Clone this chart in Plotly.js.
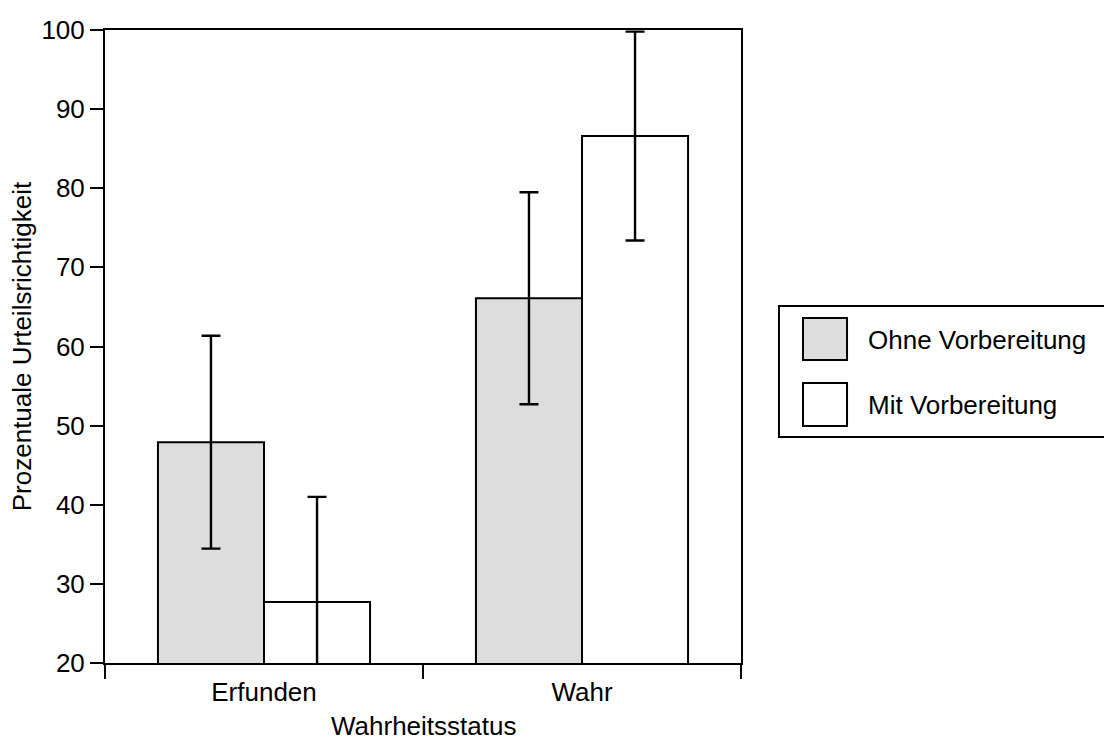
<!DOCTYPE html>
<html>
<head>
<meta charset="utf-8">
<script src="https://cdn.plot.ly/plotly-3.0.1.min.js"></script>
<style>
  html, body { margin: 0; padding: 0; background: #ffffff; }
  #chart { width: 1104px; height: 742px; }
</style>
</head>
<body>
<div id="chart"></div>
<script>
// Categories (truth status) and the two preparation conditions
const categories = ["Erfunden", "Wahr"];
const seriesNames = ["Ohne Vorbereitung", "Mit Vorbereitung"];
const xTitle = "Wahrheitsstatus";
const yTitle = "Prozentuale Urteilsrichtigkeit";

// Mean percentage of correct judgements
const ohneValues = [47.9, 66.1];
const mitValues = [27.7, 86.6];

// Error bar half-lengths
const ohneErrors = [13.45, 13.4];
const mitErrors = [13.3, 13.2];

// Y axis ticks
const yTicks = [20, 30, 40, 50, 60, 70, 80, 90, 100];

const FONT = "Liberation Sans, Arial, Helvetica, sans-serif";
const BLACK = "#000000";
const GREY = "#dddddd";

function barTrace(name, values, errors, fill) {
  return {
    type: "bar",
    name: name,
    x: categories,
    y: values,
    marker: { color: fill, line: { color: BLACK, width: 2 } },
    error_y: {
      type: "data",
      array: errors,
      symmetric: true,
      visible: true,
      color: BLACK,
      thickness: 2.4,
      width: 9.5
    },
    hoverinfo: "x+y"
  };
}

const data = [
  barTrace(seriesNames[0], ohneValues, ohneErrors, GREY),
  barTrace(seriesNames[1], mitValues, mitErrors, "#ffffff")
];

// Legend drawn as a framed box with large swatches
const legendShapes = [
  { type: "rect", xref: "paper", yref: "paper", x0: 1.0597, x1: 1.58, y0: 0.357, y1: 0.564,
    line: { color: BLACK, width: 2 }, fillcolor: "#ffffff" },
  { type: "rect", xref: "paper", yref: "paper", x0: 1.0975, x1: 1.1667, y0: 0.4787, y1: 0.545,
    line: { color: BLACK, width: 2 }, fillcolor: GREY },
  { type: "rect", xref: "paper", yref: "paper", x0: 1.0975, x1: 1.1667, y0: 0.3744, y1: 0.4423,
    line: { color: BLACK, width: 2 }, fillcolor: "#ffffff" }
];

const legendLabels = [
  { text: seriesNames[0], y: 0.511 },
  { text: seriesNames[1], y: 0.408 }
].map(d => ({
  xref: "paper", yref: "paper", x: 1.197, y: d.y, xanchor: "left", yanchor: "middle",
  text: d.text, showarrow: false, font: { family: FONT, size: 26, color: BLACK }
}));

// X axis title placed at the bottom of the figure
const xTitleNote = {
  xref: "paper", yref: "paper", x: 0.5, y: -0.1245, xanchor: "center", yanchor: "bottom",
  borderpad: 0, text: xTitle, showarrow: false, font: { family: FONT, size: 26, color: BLACK }
};

const layout = {
  width: 1104,
  height: 742,
  margin: { l: 105, r: 363, t: 30, b: 79, pad: 0 },
  paper_bgcolor: "#ffffff",
  plot_bgcolor: "#ffffff",
  font: { family: FONT, size: 26, color: BLACK },
  showlegend: false,
  barmode: "group",
  bargap: 0.333,
  bargroupgap: 0,
  xaxis: {
    type: "category",
    range: [-0.5, 1.5],
    tickson: "boundaries",
    ticks: "outside",
    ticklen: 14,
    tickwidth: 2,
    tickcolor: BLACK,
    ticklabelstandoff: 5,
    showline: true,
    linecolor: BLACK,
    linewidth: 2,
    mirror: true,
    showgrid: false,
    zeroline: false,
    tickfont: { family: FONT, size: 26, color: BLACK }
  },
  yaxis: {
    range: [20, 100],
    tickvals: yTicks,
    ticktext: yTicks.map(String),
    ticks: "outside",
    ticklen: 13,
    tickwidth: 2,
    tickcolor: BLACK,
    showline: true,
    linecolor: BLACK,
    linewidth: 2,
    mirror: true,
    showgrid: false,
    zeroline: false,
    tickfont: { family: FONT, size: 26, color: BLACK },
    title: { text: yTitle, font: { family: FONT, size: 26, color: BLACK }, standoff: 2 }
  },
  shapes: legendShapes,
  annotations: legendLabels.concat([xTitleNote])
};

Plotly.newPlot("chart", data, layout, { displayModeBar: false, staticPlot: true });
</script>
</body>
</html>
